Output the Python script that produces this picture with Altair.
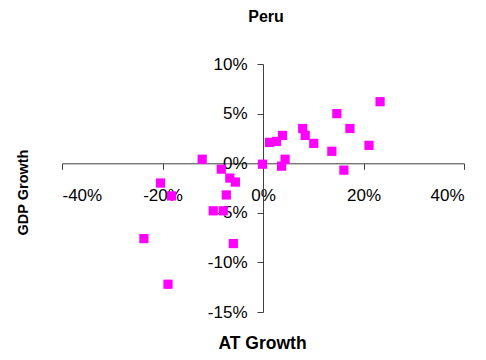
import altair as alt
import pandas as pd

at_growth = [0.233, 0.147, 0.079, 0.173, 0.084, 0.039, 0.027, 0.013, 0.101, 0.211,
             0.137, 0.044, -0.001, 0.037, 0.161, -0.121, -0.083, -0.066, -0.055, -0.204,
             -0.182, -0.073, -0.099, -0.079, -0.237, -0.059, -0.189]
gdp_growth = [0.062, 0.050, 0.035, 0.035, 0.028, 0.028, 0.022, 0.021, 0.020, 0.018,
              0.012, 0.004, -0.001, -0.003, -0.007, 0.004, -0.006, -0.015, -0.019, -0.020,
              -0.033, -0.032, -0.048, -0.048, -0.076, -0.081, -0.122]
x_ticks = [-0.4, -0.2, 0.0, 0.2, 0.4]
y_ticks = [-0.15, -0.10, -0.05, 0.0, 0.05, 0.10]

df = pd.DataFrame({"at": at_growth, "gdp": gdp_growth})

W, H = 402, 248
FONT = "Liberation Sans"
HYPHEN = "replace(datum.label, '\u2212', '-')"

chart = alt.Chart(df).mark_point(
    shape="square", filled=True, size=85, color="#FF00FF", opacity=1
).encode(
    x=alt.X("at:Q", scale=alt.Scale(domain=[-0.4, 0.4], nice=False),
            axis=alt.Axis(values=x_ticks, format=".0%", labelExpr=HYPHEN,
                          offset=-148.7, grid=False,
                          title="AT Growth", titleX=200, titleY=185,
                          titleBaseline="alphabetic", titleFontSize=17.5,
                          titleFontWeight="bold", labelFontSize=17,
                          labelPadding=18, tickSize=6, labelColor="black",
                          titleColor="black", domainColor="#404040",
                          tickColor="#404040", labelFont=FONT, titleFont=FONT)),
    y=alt.Y("gdp:Q", scale=alt.Scale(domain=[-0.15, 0.10], nice=False),
            axis=alt.Axis(values=y_ticks, format=".0%", labelExpr=HYPHEN,
                          offset=-201, grid=False,
                          title="GDP Growth", titleX=-236, titleY=128,
                          titleBaseline="alphabetic", titleAngle=-90,
                          titleFontSize=14.5, titleFontWeight="bold",
                          labelFontSize=17, labelPadding=10, tickSize=6,
                          labelColor="black", titleColor="black",
                          domainColor="#404040", tickColor="#404040",
                          labelFont=FONT, titleFont=FONT)),
).properties(
    width=W, height=H,
    title=alt.TitleParams("Peru", fontSize=16, font=FONT, fontWeight="bold",
                          color="black", anchor="middle", dx=3, dy=-26),
    autosize=alt.AutoSizeParams(type="none"),
    padding={"left": 54, "top": 56, "right": 14, "bottom": 44},
).configure_view(stroke=None)

chart.save("out.html", embed_options={"renderer": "svg", "actions": False})
